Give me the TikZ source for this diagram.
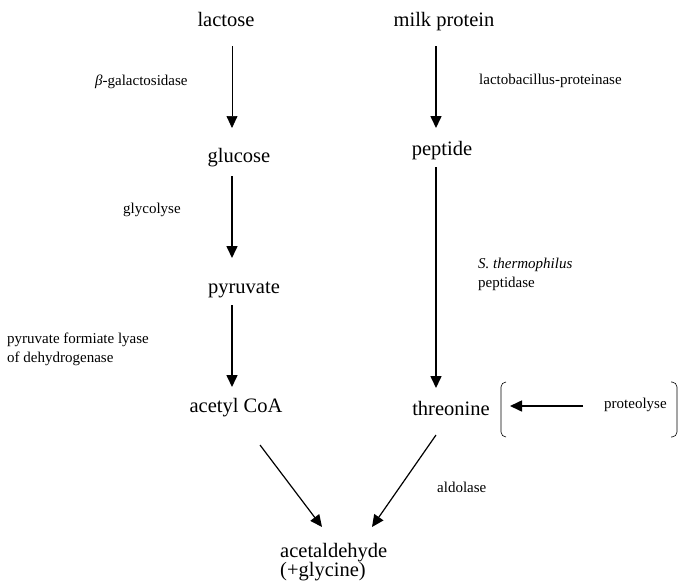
\documentclass[tikz,border=0pt]{standalone}
\usepackage{fontspec}
\setmainfont{Liberation Serif}
\usetikzlibrary{arrows.meta}
\begin{document}
\begin{tikzpicture}[x=1pt,y=-1pt,
  big/.style={font=\fontsize{20.5}{19}\selectfont, inner sep=0pt, anchor=base},
  small/.style={font=\fontsize{15}{19}\selectfont, inner sep=0pt, anchor=base west, align=left},
  arr/.style={line width=1.6pt, -{Triangle[length=12pt,width=11pt]}},
  thinarr/.style={line width=0.7pt, -{Triangle[length=12pt,width=11pt]}},
  diagarr/.style={line width=1.2pt, -{Triangle[length=12pt,width=11pt]}},
  brk/.style={line width=0.6pt, rounded corners=5pt}]
\useasboundingbox (0,0) rectangle (678,582);
% main compounds
\node[big] (lactose) at (226,26) {lactose};
\node[big] (milk) at (444,26) {milk protein};
\node[big] (glucose) at (239,162) {glucose};
\node[big] (peptide) at (442,155) {peptide};
\node[big] (pyruvate) at (244,293) {pyruvate};
\node[big] (acetyl) at (236,412) {acetyl CoA};
\node[big] (threonine) at (451,415) {threonine};
\node[big, anchor=base west, align=left] (acetal) at (280,576) {acetaldehyde\\(+glycine)};
% enzyme labels
\node[small] (bgal) at (95,85) {\itshape β\upshape-galactosidase};
\node[small] (glyc) at (123,213) {glycolyse};
\node[small] (pfl) at (7,362) {pyruvate formiate lyase\\of dehydrogenase};
\node[small] (lbp) at (479,84) {lactobacillus-proteinase};
\node[small] (sth) at (478,287) {\itshape S. thermophilus\\\upshape peptidase};
\node[small] (prot) at (604,408) {proteolyse};
\node[small] (ald) at (437,492) {aldolase};
% arrows
\draw[thinarr] ([shift={(6,20)}]lactose.base) -- ([shift={(-7,-34)}]glucose.base);
\draw[arr] ([shift={(-7,14)}]glucose.base) -- ([shift={(-12,-35)}]pyruvate.base);
\draw[arr] ([shift={(-12,12)}]pyruvate.base) -- ([shift={(-4,-25)}]acetyl.base);
\draw[arr] ([shift={(-8,20)}]milk.base) -- ([shift={(-6,-27)}]peptide.base);
\draw[arr] ([shift={(-6,12)}]peptide.base) -- ([shift={(-15,-27)}]threonine.base);
\draw[diagarr] ([shift={(24,33)}]acetyl.base) -- ([shift={(42,-49)}]acetal.base west);
\draw[diagarr] ([shift={(-15,20)}]threonine.base) -- ([shift={(92,-49)}]acetal.base west);
\draw[arr] ([shift={(-21,-2)}]prot.base west) -- ([shift={(59,-9)}]threonine.base);
% brackets
\draw[brk] (506,382) -- (501,382) -- (501,437) -- (506,437);
\draw[brk] (671,382) -- (677,382) -- (677,437) -- (671,437);
\end{tikzpicture}
\end{document}
